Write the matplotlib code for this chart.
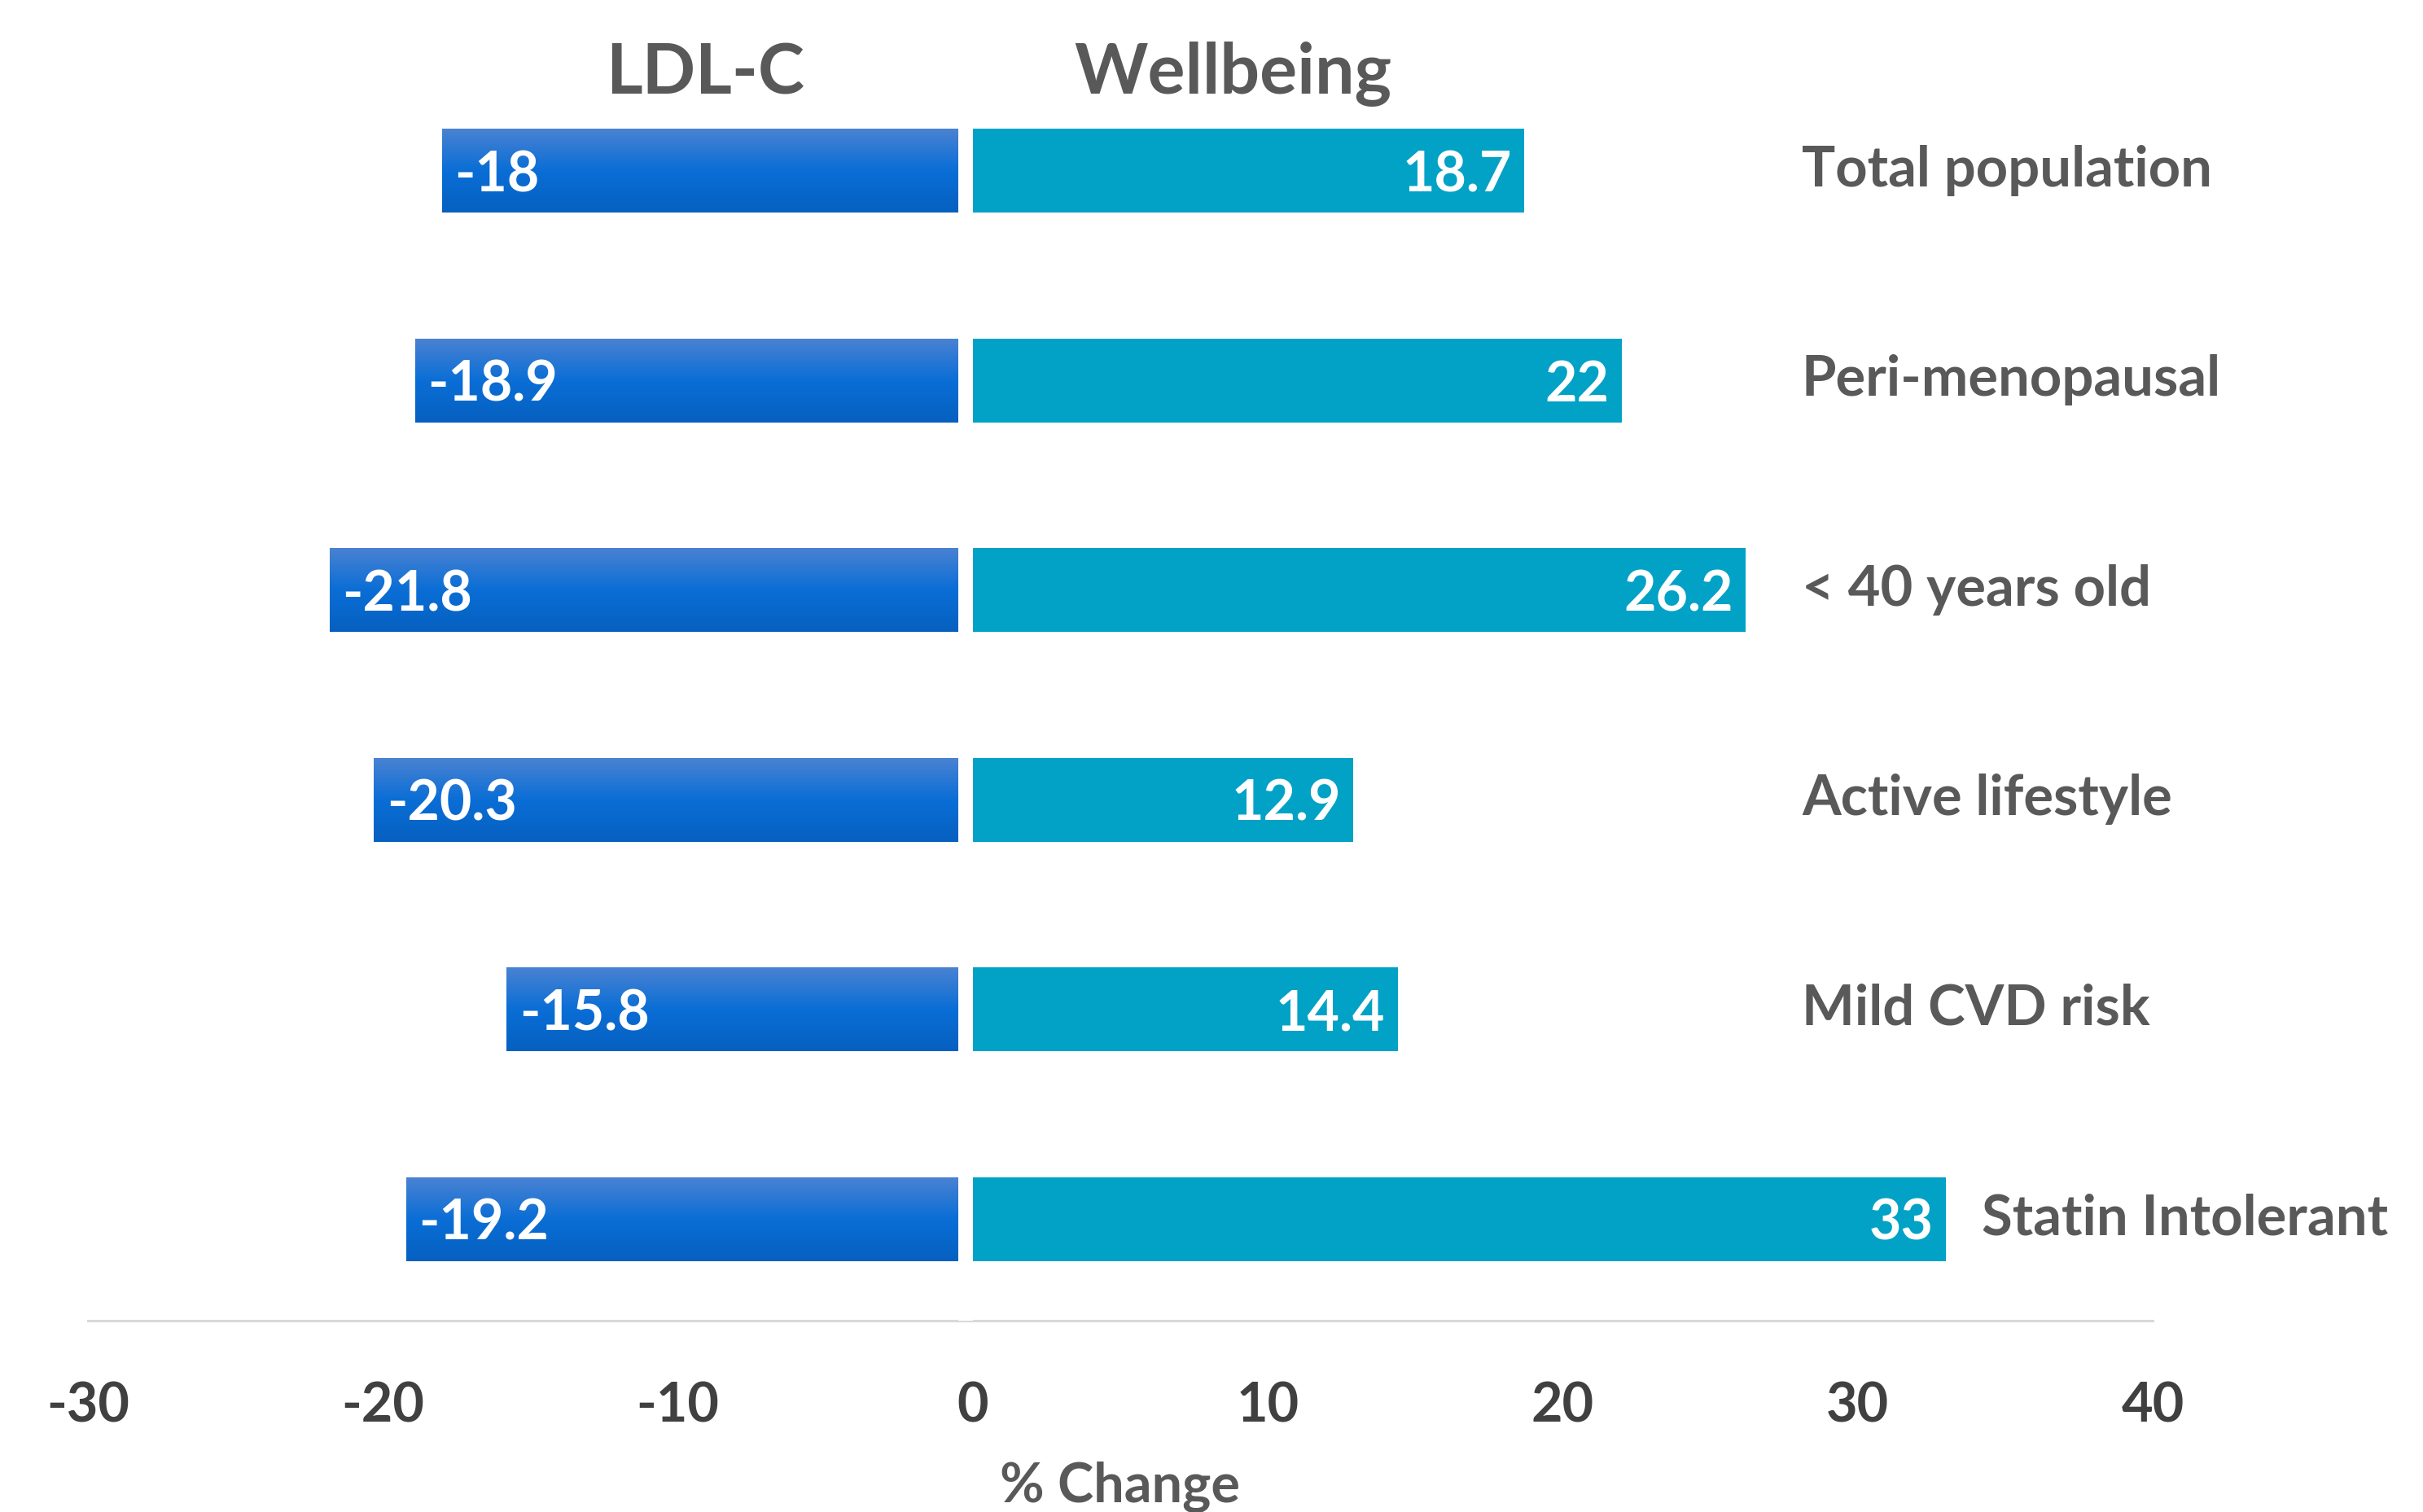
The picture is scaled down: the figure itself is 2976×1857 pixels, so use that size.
import matplotlib
matplotlib.use("Agg")
import matplotlib.pyplot as plt
import numpy as np
from matplotlib.colors import LinearSegmentedColormap

categories = ["Total population", "Peri-menopausal", "< 40 years old",
              "Active lifestyle", "Mild CVD risk", "Statin Intolerant"]
ldl = [-18, -18.9, -21.8, -20.3, -15.8, -19.2]
wellbeing = [18.7, 22, 26.2, 12.9, 14.4, 33]
xticks = [-30, -20, -10, 0, 10, 20, 30, 40]

FONT = ["Lato", "DejaVu Sans"]
GREY = "#595959"
TEAL = "#02A2C6"

fig = plt.figure(figsize=(29.76, 18.58), dpi=100)
ax = fig.add_axes([108/2976, 1 - 1623/1858, (2644-108)/2976, (1623-82)/1858])

y = np.arange(len(categories))
h = 0.4
YLIM = (len(categories) - 0.515, -0.5)
teal_bars = ax.barh(y, wellbeing, height=h, color=TEAL, zorder=5)
blue_bars = ax.barh(y, ldl, height=h, color="#0A6FD6", zorder=2)

# vertical gradient on blue bars
cmap = LinearSegmentedColormap.from_list("bl", ["#4A82D2", "#0A6ED6", "#0660C0"])
grad = np.linspace(0, 1, 256).reshape(-1, 1)
for b in blue_bars:
    x0, yb, w, hh = b.get_x(), b.get_y(), b.get_width(), b.get_height()
    im = ax.imshow(grad, cmap=cmap, aspect="auto",
                   extent=(x0, x0 + w, yb + hh, yb), zorder=3,
                   interpolation="bilinear")
    im.set_clip_path(b)
ax.set_xlim(-30, 40)
ax.set_ylim(*YLIM)

# white gap between the two series
ax.axvline(-0.25, color="white", lw=18*0.72, zorder=4)

# value labels
for yi, v in zip(y, ldl):
    ax.text(v + 0.42, yi + 0.095, f"{v:g}", color="white", fontsize=49, fontweight="bold",
            family=FONT, ha="left", va="baseline", zorder=6)
for yi, v in zip(y, wellbeing):
    ax.text(v - 0.42, yi + 0.095, f"{v:g}", color="white", fontsize=49, fontweight="bold",
            family=FONT, ha="right", va="baseline", zorder=6)

# category labels
for yi, c, v in zip(y, categories, wellbeing):
    ax.text(max(28.1, v + 1.2), yi + 0.07, c, color=GREY, fontsize=49.5, fontweight="bold",
            family=FONT, ha="left", va="baseline", zorder=6, clip_on=False)

# axes styling
for s in ["top", "right", "left"]:
    ax.spines[s].set_visible(False)
ax.spines["bottom"].set_color("#D9D9D9")
ax.spines["bottom"].set_linewidth(2.2)
ax.set_yticks([])
ax.set_xticks(xticks)
ax.set_xticklabels([str(t) for t in xticks])
ax.tick_params(axis="x", length=0, pad=53, labelsize=48, labelcolor="#404040")
for lab in ax.get_xticklabels():
    lab.set_family(FONT)
    lab.set_fontweight("bold")

fig.text(866/2976, 1 - 115/1858, "LDL-C", color=GREY, fontsize=62, fontweight="bold",
         family=FONT, ha="center", va="baseline")
fig.text(1514/2976, 1 - 115/1858, "Wellbeing", color=GREY, fontsize=62, fontweight="bold",
         family=FONT, ha="center", va="baseline")
fig.text(1376/2976, 1 - 1845/1858, "% Change", color=GREY, fontsize=48, fontweight="bold",
         family=FONT, ha="center", va="baseline")

fig.savefig("out.png", dpi=100)
